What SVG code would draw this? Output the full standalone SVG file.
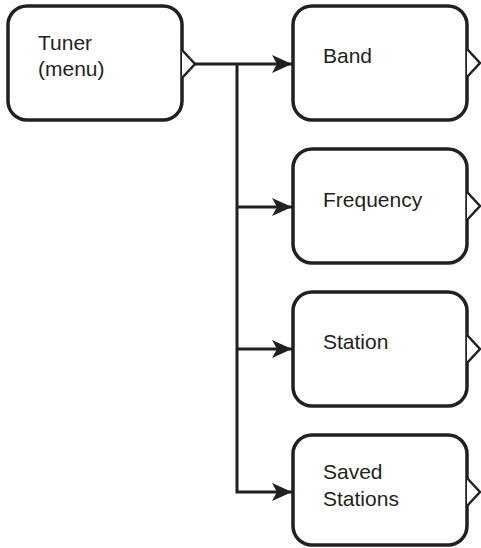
<svg xmlns="http://www.w3.org/2000/svg" width="481" height="548" viewBox="0 0 481 548">
<defs>
<style>
.box{fill:#fff;stroke:#231f20;stroke-width:3.5}
.tri{fill:#fff;stroke:#231f20;stroke-width:2.5;stroke-linejoin:miter}
.line{fill:none;stroke:#231f20;stroke-width:3}
.lbl{font-family:"Liberation Sans",Arial,sans-serif;font-size:21px;fill:#231f20}
</style>
<marker id="ah" markerUnits="userSpaceOnUse" markerWidth="20" markerHeight="20" viewBox="0 0 20 20" refX="20" refY="10" orient="auto">
<path d="M20,10 L0,1 L5,10 L0,19 Z" fill="#231f20"/>
</marker>
</defs>
<g id="connectors">
<path class="line" d="M195,64 H292" marker-end="url(#ah)"/>
<path class="line" d="M237,64 V492 H292" marker-end="url(#ah)"/>
<path class="line" d="M237,207 H292" marker-end="url(#ah)"/>
<path class="line" d="M237,349 H292" marker-end="url(#ah)"/>
</g>
<g id="tuner">
<rect class="box" x="8" y="6" width="174" height="114" rx="19"/>
<path class="tri" d="M182,50 L195,64 L182,78"/>
<text class="lbl" x="38" y="50">Tuner</text>
<text class="lbl" x="38" y="76">(menu)</text>
</g>
<g id="band">
<rect class="box" x="293" y="6" width="174" height="114" rx="19"/>
<path class="tri" d="M467,49 L480,63 L467,77"/>
<text class="lbl" x="323" y="63">Band</text>
</g>
<g id="frequency">
<rect class="box" x="293" y="149" width="174" height="114" rx="19"/>
<path class="tri" d="M467,192 L480,206 L467,220"/>
<text class="lbl" x="323" y="207">Frequency</text>
</g>
<g id="station">
<rect class="box" x="293" y="292" width="174" height="114" rx="19"/>
<path class="tri" d="M467,335 L480,349 L467,363"/>
<text class="lbl" x="323" y="349">Station</text>
</g>
<g id="saved-stations">
<rect class="box" x="293" y="435" width="174" height="110" rx="19"/>
<path class="tri" d="M467,478 L480,492 L467,506"/>
<text class="lbl" x="323" y="479">Saved</text>
<text class="lbl" x="323" y="506">Stations</text>
</g>
</svg>
